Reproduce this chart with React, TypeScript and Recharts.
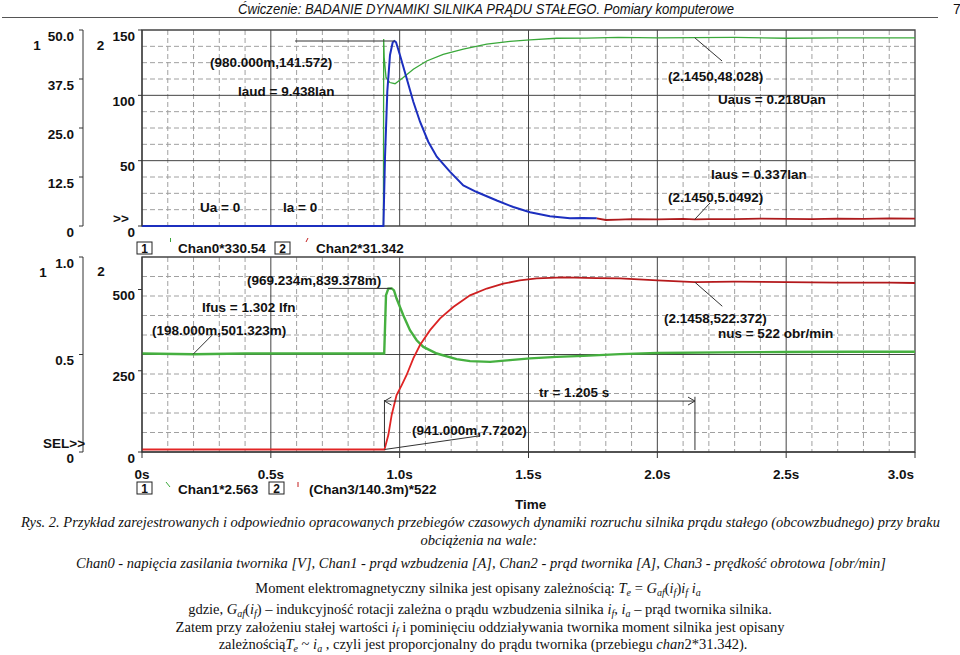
import React from 'react';
import {
  LineChart, Line, XAxis, YAxis, CartesianGrid,
  ReferenceArea, ReferenceLine, ReferenceDot,
} from 'recharts';

const SANS = '"Liberation Sans", Arial, Helvetica, sans-serif';
const SERIF = '"Liberation Serif", "Times New Roman", serif';

// time axis (s)
const timeTicks = [0, 0.5, 1.0, 1.5, 2.0, 2.5, 3.0];
const timeMajor = [0.5, 1.0, 1.5, 2.0, 2.5];
const timeMinor = [0.1, 0.2, 0.3, 0.4, 0.6, 0.7, 0.8, 0.9, 1.1, 1.2, 1.3, 1.4, 1.6, 1.7, 1.8, 1.9, 2.1, 2.2, 2.3, 2.4, 2.6, 2.7, 2.8, 2.9];

// top panel: axis 1 = Chan0*330.54, axis 2 = Chan2*31.342
const topAxis1Ticks = [0, 12.5, 25, 37.5, 50];
const topAxis2Ticks = [0, 50, 100, 150];
const topGridMajor = [50, 100];
const topGridMinor = [12.5, 25, 37.5, 62.5, 75, 87.5, 112.5, 125, 137.5];

// bottom panel: axis 1 = Chan1*2.563, axis 2 = (Chan3/140.3m)*522
const botAxis1Ticks = [0, 0.5, 1.0];
const botAxis2Ticks = [0, 250, 500];
const botGridMajor = [0.5];
const botGridMinor = [0.1, 0.2, 0.3, 0.4, 0.6, 0.7, 0.8, 0.9];

// armature voltage (green, top)
const uaT = [0, 0.937, 0.938, 0.940, 0.947, 0.962, 0.982, 1.014, 1.053, 1.105, 1.169, 1.247, 1.338, 1.428, 1.506, 1.609, 1.726, 1.848, 2.0, 2.145, 2.3, 2.5, 2.7, 2.9, 3.0];
const uaV = [0, 0, 47.7, 43.0, 37.9, 36.6, 36.3, 37.9, 40.0, 42.1, 43.8, 45.1, 46.4, 47.1, 47.5, 47.9, 47.95, 48.1, 48.0, 48.03, 48.1, 47.9, 48.0, 48.0, 48.0];

// armature current, transient part (blue, top)
const iaT = [0, 0.937, 0.943, 0.952, 0.9625, 0.973, 0.98, 0.986, 1.001, 1.027, 1.053, 1.079, 1.111, 1.144, 1.195, 1.247, 1.299, 1.377, 1.441, 1.506, 1.583, 1.661, 1.71, 1.765];
const iaV = [0, 0, 51.8, 102.8, 130.9, 140.6, 141.6, 140.6, 130.9, 113, 95.1, 79.8, 64.5, 53, 41.6, 31.0, 26.0, 19.5, 14.5, 10.5, 7.5, 6.0, 6.2, 5.9];

// armature current, steady part (red, top)
const iasT = [1.765, 1.8, 1.85, 1.9, 2.0, 2.1, 2.145, 2.2, 2.3, 2.4, 2.5, 2.6, 2.7, 2.8, 2.9, 3.0];
const iasV = [5.9, 4.6, 4.9, 5.3, 5.0, 5.4, 5.05, 5.3, 5.2, 5.6, 5.4, 5.2, 5.6, 5.4, 5.9, 5.6];

// field current (green, bottom)
const ifT = [0, 0.2, 0.4, 0.6, 0.8, 0.94, 0.947, 0.956, 0.969, 0.978, 0.988, 1.014, 1.04, 1.066, 1.092, 1.144, 1.221, 1.273, 1.351, 1.428, 1.506, 1.609, 1.713, 1.855, 2.0, 2.25, 2.5, 2.75, 3.0];
const ifV = [0.505, 0.501, 0.505, 0.505, 0.505, 0.505, 0.804, 0.838, 0.839, 0.829, 0.787, 0.701, 0.625, 0.573, 0.539, 0.505, 0.476, 0.466, 0.462, 0.471, 0.480, 0.488, 0.493, 0.502, 0.508, 0.511, 0.513, 0.514, 0.514];

// speed (red, bottom)
const nT = [0, 0.941, 0.956, 0.969, 0.988, 1.008, 1.027, 1.053, 1.079, 1.118, 1.157, 1.208, 1.273, 1.338, 1.402, 1.466, 1.532, 1.635, 1.765, 1.855, 2.0, 2.146, 2.3, 2.5, 2.7, 2.9, 3.0];
const nV = [7.7, 7.7, 52, 114, 175, 206, 237, 288, 329, 375, 411, 446, 482, 503, 518, 528, 534, 537, 535, 534, 528, 522.4, 524, 523, 521, 521, 520];

const pts = (ts: number[], vs: number[]) => ts.map((t, i) => ({ t, v: vs[i] }));

// annotation texts placed in data coordinates
const topNotes = [
  { t: 0.264, v: 121.7, text: '(980.000m,141.572)' },
  { t: 0.3726, v: 99.5, text: 'Iaud = 9.438Ian' },
  { t: 0.2251, v: 10.7, text: 'Ua = 0' },
  { t: 0.5472, v: 10.7, text: 'Ia = 0' },
  { t: 2.0414, v: 111.0, text: '(2.1450,48.028)' },
  { t: 2.2354, v: 93.4, text: 'Uaus = 0.218Uan' },
  { t: 2.2083, v: 36.0, text: 'Iaus = 0.337Ian' },
  { t: 2.0414, v: 18.4, text: '(2.1450,5.0492)' },
];
const botNotes = [
  { t: 0.4075, v: 0.855, text: '(969.234m,839.378m)' },
  { t: 0.2329, v: 0.717, text: 'Ifus = 1.302 Ifn' },
  { t: 0.0388, v: 0.599, text: '(198.000m,501.323m)' },
  { t: 1.0478, v: 0.087, text: '(941.000m,7.7202)' },
  { t: 1.5407, v: 0.282, text: 'tr = 1.205 s' },
  { t: 2.0259, v: 0.661, text: '(2.1458,522.372)' },
  { t: 2.2354, v: 0.584, text: 'nus = 522 obr/min' },
];

const fmtAxis1 = (v: number) => (v === 0 ? '0' : v.toFixed(1));
const fmtTime = (v: number) => (v === 0 ? '0s' : `${v.toFixed(1)}s`);

const labelStyle = { fontFamily: SANS, fontSize: 13.5, fontWeight: 700, fill: '#111' } as const;

const leftTick = (fmt: (v: number) => string) => (props: any) => {
  const { x, y, payload } = props;
  return (
    <text x={x} y={y + 6} dy="0.35em" textAnchor="end" style={labelStyle}>
      {fmt(payload.value)}
    </text>
  );
};

const TimeTick = (props: any) => {
  const { x, y, payload } = props;
  const last = payload.value === 3;
  return (
    <text x={last ? x - 1 : x} y={y + 19} textAnchor={last ? 'end' : 'middle'} style={labelStyle}>
      {fmtTime(payload.value)}
    </text>
  );
};

const noteShape = (text: string) => (p: any) => (
  <text x={p.cx} y={p.cy} style={labelStyle}>{text}</text>
);

const axisStroke = { stroke: '#333' };
const leader = { stroke: '#333', strokeWidth: 1 };

// axis ids: the one sorting first is drawn next to the plot
const TOP_IN = 'innerTop2';
const TOP_OUT = 'outerTop1';
const BOT_IN = 'innerBot2';
const BOT_OUT = 'outerBot1';

const TopPanel = () => (
  <LineChart width={960} height={240} margin={{ top: 30, right: 45, bottom: 14, left: 0 }}>
    <XAxis dataKey="t" type="number" domain={[0, 3]} hide allowDataOverflow />
    <YAxis yAxisId={TOP_IN} orientation="left" width={59} type="number" domain={[0, 150]} ticks={topAxis2Ticks}
      interval={0} tickSize={4} tickMargin={3} axisLine={axisStroke} tickLine={axisStroke} tick={leftTick(String)} />
    <YAxis yAxisId={TOP_OUT} orientation="left" width={83} type="number" domain={[0, 50]} ticks={topAxis1Ticks}
      interval={0} tickSize={4} tickMargin={5} axisLine={axisStroke} tickLine={axisStroke} tick={leftTick(fmtAxis1)} />
    <CartesianGrid yAxisId={TOP_IN} horizontalValues={topGridMinor} verticalValues={timeMinor} stroke="#a0a0a0" strokeDasharray="5 3" />
    <CartesianGrid yAxisId={TOP_IN} horizontalValues={topGridMajor} verticalValues={timeMajor} stroke="#444" />
    <ReferenceArea yAxisId={TOP_IN} x1={0} x2={3} y1={0} y2={150} fill="none" fillOpacity={0} stroke="#444" strokeWidth={1.3} />
    <Line yAxisId={TOP_OUT} data={pts(uaT, uaV)} dataKey="v" stroke="#3aa83a" strokeWidth={1.3} dot={false} activeDot={false} isAnimationActive={false} />
    <Line yAxisId={TOP_IN} data={pts(iaT, iaV)} dataKey="v" stroke="#1c2fbf" strokeWidth={2} dot={false} activeDot={false} isAnimationActive={false} />
    <Line yAxisId={TOP_IN} data={pts(iasT, iasV)} dataKey="v" stroke="#ad1a1c" strokeWidth={1.8} dot={false} activeDot={false} isAnimationActive={false} />
    <ReferenceLine yAxisId={TOP_IN} segment={[{ x: 0.594, y: 141.572 }, { x: 0.98, y: 141.572 }]} {...leader} />
    <ReferenceLine yAxisId={TOP_OUT} segment={[{ x: 2.145, y: 48.028 }, { x: 2.251, y: 42.1 }]} {...leader} />
    <ReferenceLine yAxisId={TOP_IN} segment={[{ x: 2.2044, y: 17.6 }, { x: 2.145, y: 5.05 }]} {...leader} />
    {topNotes.map((n) => (
      <ReferenceDot key={n.text} yAxisId={TOP_IN} x={n.t} y={n.v} r={0} shape={noteShape(n.text)} />
    ))}
  </LineChart>
);

const BottomPanel = () => (
  <LineChart width={960} height={260} margin={{ top: 27, right: 45, bottom: 0, left: 0 }}>
    <defs>
      <linearGradient id="speedRed" x1="0" x2="1" y1="0" y2="0">
        <stop offset="0" stopColor="#e32626" />
        <stop offset="0.36" stopColor="#e02424" />
        <stop offset="0.52" stopColor="#b91a1c" />
        <stop offset="1" stopColor="#b0181b" />
      </linearGradient>
    </defs>
    <XAxis dataKey="t" type="number" domain={[0, 3]} ticks={timeTicks} interval={0} tickSize={6} tickMargin={2}
      height={38} axisLine={axisStroke} tickLine={axisStroke} tick={TimeTick} allowDataOverflow />
    <YAxis yAxisId={BOT_IN} orientation="left" width={59} type="number" domain={[0, 600]} ticks={botAxis2Ticks}
      interval={0} tickSize={4} tickMargin={3} axisLine={axisStroke} tickLine={axisStroke} tick={leftTick(String)} />
    <YAxis yAxisId={BOT_OUT} orientation="left" width={83} type="number" domain={[0, 1]} ticks={botAxis1Ticks}
      interval={0} tickSize={4} tickMargin={5} axisLine={axisStroke} tickLine={axisStroke} tick={leftTick(fmtAxis1)} />
    <CartesianGrid yAxisId={BOT_OUT} horizontalValues={botGridMinor} verticalValues={timeMinor} stroke="#a0a0a0" strokeDasharray="5 3" />
    <CartesianGrid yAxisId={BOT_OUT} horizontalValues={botGridMajor} verticalValues={timeMajor} stroke="#444" />
    <ReferenceArea yAxisId={BOT_OUT} x1={0} x2={3} y1={0} y2={1} fill="none" fillOpacity={0} stroke="#444" strokeWidth={1.3} />
    <Line yAxisId={BOT_OUT} data={pts(ifT, ifV)} dataKey="v" stroke="#46b040" strokeWidth={2.4} dot={false} activeDot={false} isAnimationActive={false} />
    <Line yAxisId={BOT_IN} data={pts(nT, nV)} dataKey="v" stroke="url(#speedRed)" strokeWidth={1.8} dot={false} activeDot={false} isAnimationActive={false} />
    <ReferenceLine yAxisId={BOT_OUT} segment={[{ x: 0.7218, y: 0.839 }, { x: 0.969, y: 0.839 }]} {...leader} />
    <ReferenceLine yAxisId={BOT_OUT} segment={[{ x: 0.2755, y: 0.604 }, { x: 0.198, y: 0.501 }]} {...leader} />
    <ReferenceLine yAxisId={BOT_IN} segment={[{ x: 0.941, y: 7.72 }, { x: 1.312, y: 50 }]} {...leader} />
    <ReferenceLine yAxisId={BOT_IN} segment={[{ x: 2.1458, y: 522.372 }, { x: 2.2521, y: 448.5 }]} {...leader} />
    {/* tr arrow */}
    <ReferenceLine yAxisId={BOT_IN} segment={[{ x: 0.941, y: 156.7 }, { x: 2.146, y: 156.7 }]} {...leader} />
    <ReferenceLine yAxisId={BOT_IN} segment={[{ x: 0.941, y: 160 }, { x: 0.941, y: 16 }]} {...leader} />
    <ReferenceLine yAxisId={BOT_IN} segment={[{ x: 2.146, y: 170 }, { x: 2.146, y: 6 }]} {...leader} />
    <ReferenceLine yAxisId={BOT_IN} segment={[{ x: 0.968, y: 169 }, { x: 0.941, y: 156.7 }]} {...leader} />
    <ReferenceLine yAxisId={BOT_IN} segment={[{ x: 0.968, y: 144.4 }, { x: 0.941, y: 156.7 }]} {...leader} />
    <ReferenceLine yAxisId={BOT_IN} segment={[{ x: 2.119, y: 169 }, { x: 2.146, y: 156.7 }]} {...leader} />
    <ReferenceLine yAxisId={BOT_IN} segment={[{ x: 2.119, y: 144.4 }, { x: 2.146, y: 156.7 }]} {...leader} />
    {botNotes.map((n) => (
      <ReferenceDot key={n.text} yAxisId={BOT_OUT} x={n.t} y={n.v} r={0} shape={noteShape(n.text)} />
    ))}
  </LineChart>
);

const Box = ({ x, y, n }: { x: number; y: number; n: string }) => (
  <g>
    <rect x={x} y={y} width={15} height={12} fill="none" stroke="#222" strokeWidth={1} />
    <text x={x + 7.5} y={y + 10.5} textAnchor="middle" style={{ ...labelStyle, fontSize: 12 }}>{n}</text>
  </g>
);

const sub = { fontSize: 10 };
const capText = { fontFamily: SERIF, fontSize: 14.5, fill: '#111' };

const Overlay = () => (
  <svg width={960} height={655} style={{ position: 'absolute', left: 0, top: 0, pointerEvents: 'none' }}>
    <text x={238} y={14} textLength={496} lengthAdjust="spacingAndGlyphs"
      style={{ fontFamily: SANS, fontSize: 14, fontStyle: 'italic', fill: '#111' }}>
      Ćwiczenie: BADANIE DYNAMIKI SILNIKA PRĄDU STAŁEGO. Pomiary komputerowe
    </text>
    <line x1={2} x2={938} y1={17.5} y2={17.5} stroke="#555" strokeWidth={1.2} />
    <text x={953} y={14} style={{ fontFamily: SANS, fontSize: 14, fill: '#111' }}>7</text>

    <text x={37} y={50} textAnchor="middle" style={labelStyle}>1</text>
    <text x={100.5} y={50} textAnchor="middle" style={labelStyle}>2</text>
    <text x={113} y={223} style={labelStyle}>&gt;&gt;</text>
    <text x={43} y={276.5} textAnchor="middle" style={labelStyle}>1</text>
    <text x={101} y={275.5} textAnchor="middle" style={labelStyle}>2</text>
    <text x={43} y={448} style={labelStyle}>SEL&gt;&gt;</text>

    <Box x={137} y={242} n="1" />
    <line x1={170.5} x2={170.5} y1={238} y2={242} stroke="#3aa83a" strokeWidth={1} />
    <text x={178} y={252.5} style={labelStyle}>Chan0*330.54</text>
    <Box x={275} y={242} n="2" />
    <line x1={306} x2={308} y1={242} y2={238} stroke="#c41e1e" strokeWidth={1} />
    <text x={316} y={252.5} style={labelStyle}>Chan2*31.342</text>

    <Box x={137} y={482} n="1" />
    <line x1={166} x2={170} y1={482} y2={487} stroke="#3aa83a" strokeWidth={1} />
    <text x={178} y={494} style={labelStyle}>Chan1*2.563</text>
    <Box x={269} y={482} n="2" />
    <line x1={298} x2={298} y1={482} y2={487} stroke="#c41e1e" strokeWidth={1} />
    <text x={309} y={494} style={labelStyle}>(Chan3/140.3m)*522</text>
    <text x={515} y={509} style={labelStyle}>Time</text>

    <text x={21} y={527} textLength={919} lengthAdjust="spacingAndGlyphs" style={{ ...capText, fontStyle: 'italic' }}>
      Rys. 2. Przykład zarejestrowanych i odpowiednio opracowanych przebiegów czasowych dynamiki rozruchu silnika prądu stałego (obcowzbudnego) przy braku
    </text>
    <text x={479} y={545} textAnchor="middle" style={{ ...capText, fontStyle: 'italic' }}>
      obciążenia na wale:
    </text>
    <text x={76} y={568} textLength={810} lengthAdjust="spacingAndGlyphs" style={{ ...capText, fontStyle: 'italic' }}>
      Chan0 - napięcia zasilania twornika [V], Chan1 - prąd wzbudzenia [A], Chan2 - prąd twornika [A], Chan3 - prędkość obrotowa [obr/min]
    </text>
    <text x={478} y={593} textAnchor="middle" style={capText}>
      Moment elektromagnetyczny silnika jest opisany zależnością:{' '}
      <tspan fontStyle="italic">T</tspan><tspan fontStyle="italic" dy={3} style={sub}>e</tspan>
      <tspan dy={-3}> = </tspan><tspan fontStyle="italic">G</tspan><tspan fontStyle="italic" dy={3} style={sub}>af</tspan>
      <tspan dy={-3}>(</tspan><tspan fontStyle="italic">i</tspan><tspan fontStyle="italic" dy={3} style={sub}>f</tspan>
      <tspan dy={-3}>)</tspan><tspan fontStyle="italic">i</tspan><tspan fontStyle="italic" dy={3} style={sub}>f</tspan>
      <tspan dy={-3}> </tspan><tspan fontStyle="italic">i</tspan><tspan fontStyle="italic" dy={3} style={sub}>a</tspan>
    </text>
    <text x={480} y={614} textAnchor="middle" style={capText}>
      gdzie, <tspan fontStyle="italic">G</tspan><tspan fontStyle="italic" dy={3} style={sub}>af</tspan>
      <tspan dy={-3}>(</tspan><tspan fontStyle="italic">i</tspan><tspan fontStyle="italic" dy={3} style={sub}>f</tspan>
      <tspan dy={-3}>) – indukcyjność rotacji zależna o prądu wzbudzenia silnika </tspan>
      <tspan fontStyle="italic">i</tspan><tspan fontStyle="italic" dy={3} style={sub}>f</tspan>
      <tspan dy={-3}>, </tspan><tspan fontStyle="italic">i</tspan><tspan fontStyle="italic" dy={3} style={sub}>a</tspan>
      <tspan dy={-3}> – prąd twornika silnika.</tspan>
    </text>
    <text x={480} y={632} textAnchor="middle" style={capText}>
      Zatem przy założeniu stałej wartości <tspan fontStyle="italic">i</tspan><tspan fontStyle="italic" dy={3} style={sub}>f</tspan>
      <tspan dy={-3}> i pominięciu oddziaływania twornika moment silnika jest opisany</tspan>
    </text>
    <text x={483} y={649} textAnchor="middle" style={capText}>
      zależnością<tspan fontStyle="italic">T</tspan><tspan fontStyle="italic" dy={3} style={sub}>e</tspan>
      <tspan dy={-3}> ~ </tspan><tspan fontStyle="italic">i</tspan><tspan fontStyle="italic" dy={3} style={sub}>a</tspan>
      <tspan dy={-3}> , czyli jest proporcjonalny do prądu twornika (przebiegu </tspan>
      <tspan fontStyle="italic">chan</tspan>2*31.342).
    </text>
  </svg>
);

export default function App() {
  return (
    <div style={{ position: 'absolute', left: 0, top: 0, width: 960, height: 655, background: '#fff', overflow: 'hidden' }}>
      <div style={{ position: 'absolute', left: 0, top: 0 }}>
        <TopPanel />
      </div>
      <div style={{ position: 'absolute', left: 0, top: 230 }}>
        <BottomPanel />
      </div>
      <Overlay />
    </div>
  );
}
